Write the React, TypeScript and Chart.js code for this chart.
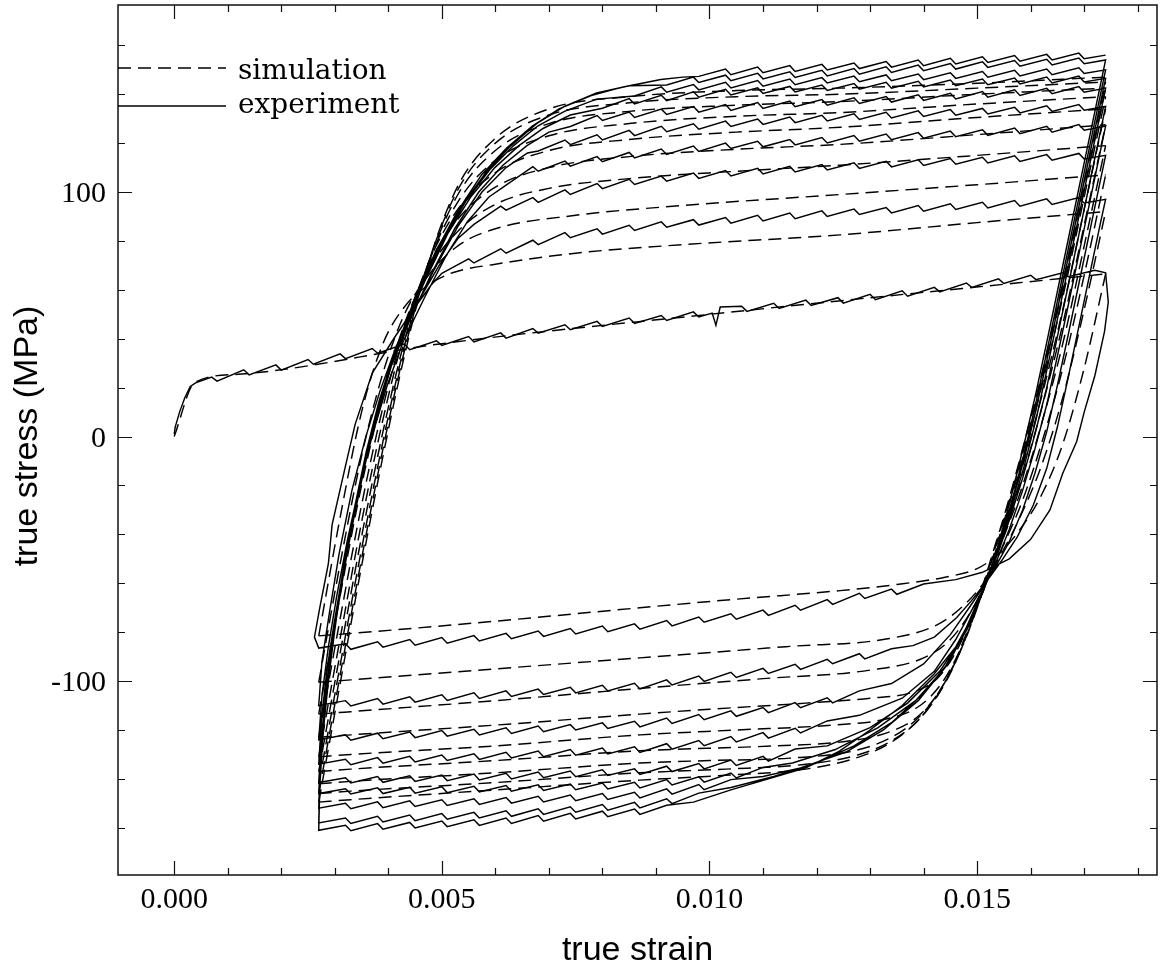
import React, { useEffect, useRef } from "react";
import { Chart, registerables } from "chart.js";

Chart.register(...registerables);

// ---------- axes (strain values are in units of 1e-3) ----------
const X_MIN = -1.05;
const X_MAX = 18.36;
const Y_MIN = -179.3;
const Y_MAX = 176.5;
const X_MAJOR = [0, 5, 10, 15];
const X_MAJOR_LABELS = ["0.000", "0.005", "0.010", "0.015"];
const X_MINOR = [0, 1, 2, 3, 4, 5, 6, 7, 8, 9, 10, 11, 12, 13, 14, 15, 16, 17, 18];
const Y_MAJOR = [-100, 0, 100];
const Y_MAJOR_LABELS = ["-100", "0", "100"];
const Y_MINOR = [-160, -140, -120, -100, -80, -60, -40, -20, 0, 20, 40, 60, 80, 100, 120, 140, 160];
const X_TITLE = "true strain";
const Y_TITLE = "true stress (MPa)";
const LEGEND = ["simulation", "experiment"];

// ---------- experiment (solid) ----------
const EXP_INIT = [
  [0, 1], [0.02, 4], [0.1, 10], [0.2, 16], [0.3, 20.5], [0.4, 22], [0.7, 24.3], [0.8, 22.7],
  [1.3, 27.3], [1.4, 25.2], [1.9, 29.3], [2.0, 27.2], [2.5, 31.5], [2.6, 29.6], [3.1, 33.8],
  [3.2, 31.9], [3.7, 36], [3.8, 34.1], [4.3, 37.8], [4.4, 35.5], [4.9, 39.2], [5.0, 37.3],
  [5.5, 40.9], [5.6, 38.7], [6.1, 42.4], [6.2, 40.2], [6.7, 44.2], [6.8, 42.3], [7.3, 45.7],
  [7.4, 43.7], [7.9, 47.1], [8.0, 45], [8.5, 48.5], [8.6, 46.3], [9.1, 49.5], [9.2, 47.5],
  [9.7, 51], [9.8, 48.9], [10.05, 50.5], [10.12, 45.5], [10.2, 53], [10.6, 53.3], [10.7, 51.2],
  [11.2, 54.5], [11.3, 52.4], [11.8, 55.8], [11.9, 53.6], [12.4, 56.8], [12.5, 54.6], [13.0, 58.2],
  [13.1, 56], [13.6, 59.6], [13.7, 57.4], [14.2, 61], [14.3, 59.2], [14.8, 62.8], [14.9, 61],
  [15.4, 64.5], [15.5, 62.6], [16.0, 66], [16.1, 64.2], [16.6, 67], [16.7, 65.4], [17.2, 68], [17.4, 67],
];

// strain grid shared by the serrated plateaus
const UPPER_X = [5.0, 5.5, 5.6, 6.1, 6.2, 6.7, 6.8, 7.3, 7.4, 7.9, 8.0, 8.5, 8.6, 9.1, 9.2, 9.7, 9.8, 10.3, 10.4, 10.9, 11.0, 11.5, 11.6, 12.1, 12.2, 12.7, 12.8, 13.3, 13.4, 13.9, 14.0, 14.5, 14.6, 15.1, 15.2, 15.7, 15.8, 16.3, 16.4, 16.9, 17.0, 17.4];
const LOWER_X = [2.7, 3.2, 3.3, 3.8, 3.9, 4.4, 4.5, 5.0, 5.1, 5.6, 5.7, 6.2, 6.3, 6.8, 6.9, 7.4, 7.5, 8.0, 8.1, 8.6, 8.7, 9.2, 9.3, 9.8, 9.9, 10.4, 10.5, 11.0, 11.1, 11.6, 11.7, 12.2, 12.3, 12.8, 12.9, 13.4, 13.5, 14.0];

// unloading paths from each tension peak down to the compressive plateau
const EXP_DOWN = [
  [[17.45, 55], [17.38, 43], [17.2, 25], [17.0, 10], [16.86, -2], [16.6, -15], [16.36, -30], [16.0, -42], [15.6, -50], [15.1, -55.5], [14.6, -58.5]],
  [[17.3, 87], [17.1, 66], [16.9, 45], [16.7, 24], [16.5, 4], [16.3, -13], [16.05, -28], [15.75, -41], [15.45, -51], [15.15, -60], [14.9, -67], [14.62, -74], [14.2, -82], [13.8, -85.5]],
  [[17.3, 104.5], [17.1, 83.5], [16.9, 62.5], [16.7, 41.5], [16.5, 21], [16.3, 2], [16.08, -15], [15.85, -30], [15.6, -43], [15.35, -53], [15.1, -62], [14.85, -70], [14.5, -81], [14.0, -93], [13.4, -101]],
  [[17.3, 116.5], [17.1, 95.5], [16.9, 74.5], [16.7, 53.5], [16.5, 33], [16.3, 13], [16.08, -5], [15.85, -22], [15.6, -38], [15.38, -50], [15.15, -61], [14.9, -71], [14.6, -83], [14.2, -96], [13.6, -107], [12.8, -114]],
  [[17.3, 124.5], [17.1, 103.5], [16.9, 82.5], [16.7, 61.5], [16.5, 41], [16.3, 20], [16.08, 1], [15.85, -17], [15.62, -33], [15.4, -47], [15.2, -58], [14.98, -69], [14.7, -83], [14.3, -96], [13.7, -109], [13.0, -119], [12.2, -126.5]],
  [[17.3, 132], [17.1, 111], [16.9, 90], [16.7, 69], [16.5, 48], [16.3, 27], [16.1, 7], [15.88, -12], [15.65, -29], [15.43, -44], [15.24, -56], [15.02, -67], [14.75, -81], [14.38, -95], [13.85, -108], [13.15, -119], [12.35, -128], [11.55, -133.5]],
  [[17.3, 136], [17.1, 115], [16.9, 94], [16.7, 73], [16.5, 52], [16.3, 31], [16.1, 11], [15.88, -9], [15.65, -27], [15.44, -42], [15.26, -54], [15.05, -66], [14.78, -80], [14.42, -94], [13.9, -108], [13.25, -120], [12.55, -129], [11.7, -135.5], [11.0, -139]],
  [[17.3, 139.5], [17.1, 118.5], [16.9, 97.5], [16.7, 76.5], [16.5, 55.5], [16.3, 34.5], [16.1, 14], [15.9, -5], [15.68, -24], [15.47, -40], [15.28, -53], [15.08, -65], [14.82, -78], [14.48, -92], [14.0, -105], [13.4, -117], [12.7, -126.5], [12.0, -133.5], [11.2, -139], [10.4, -143.5]],
  [[17.3, 143.5], [17.1, 122.5], [16.9, 101.5], [16.7, 80.5], [16.5, 59.5], [16.3, 38.5], [16.1, 18], [15.9, -1], [15.7, -19], [15.5, -36], [15.32, -50], [15.12, -63], [14.9, -74], [14.6, -86], [14.2, -97], [13.6, -110], [13.0, -120], [12.4, -129], [11.8, -135.5], [11.1, -140], [10.4, -144.5], [9.7, -149.5]],
];

// compressive plateaus: stresses on the first points of LOWER_X
const EXP_LOWER = [
  [-86.5, -84.7, -87, -83.9, -86.1, -83, -85.3, -82.2, -84.5, -81.4, -83.6, -80.5, -82.7, -79.5, -81.7, -78.5, -80.7, -77.5, -79.8, -76.6, -78.8, -75.2, -77.4, -73.8, -75.9, -72.5, -74.7, -71, -73.1, -69, -71, -66.7, -68.6, -64.1, -66.2, -62.4, -64.5, -60.3],
  [-110, -108, -110.2, -107.1, -109.4, -106.4, -108.6, -105.6, -107.9, -104.8, -107.1, -104, -106.3, -103.3, -105.5, -102.5, -104.8, -101.7, -104, -100.9, -103.2, -99.5, -101.6, -97.9, -100.1, -96.4, -98.5, -94.8, -96.9, -93.1, -95.2, -91.1, -92.9, -88.8, -90.9, -86.8],
  [-124, -122, -124.2, -121.3, -123.6, -120.8, -123.1, -120.2, -122.5, -119.7, -122, -119.1, -121.4, -118.4, -120.7, -117.8, -120, -117.1, -119.4, -116.4, -118.7, -115.1, -117.3, -113.7, -115.8, -112.2, -114.4, -110.8, -112.9, -108.8, -110.9, -106.8, -108.9, -104],
  [-134, -132, -134.2, -131.3, -133.6, -130.8, -133.1, -130.2, -132.5, -129.7, -132, -129.1, -131.4, -128.6, -130.9, -128, -130.3, -127.4, -129.8, -126.9, -129.2, -125.6, -127.8, -124.3, -126.4, -122.7, -124.9, -121.1, -123.3, -119.3, -121.2, -116.3],
  [-141.5, -139.5, -141.7, -139, -141.4, -138.7, -141, -138.4, -140.7, -138, -140.4, -137.7, -140, -137.2, -139.5, -136.8, -139.1, -136.3, -138.6, -135.9, -138.2, -134.8, -137, -133.7, -135.9, -132.3, -134.5, -130.8, -132.7, -127.8],
  [-146, -144, -146.2, -143.6, -146, -143.4, -145.8, -143.2, -145.6, -143, -145.3, -142.7, -145, -142.4, -144.7, -142.1, -144.4, -141.7, -144.1, -141.4, -143.7, -140.3, -142.5, -139.1, -141.3, -137.6, -139.6, -135.3],
  [-152, -150, -152.2, -149.4, -151.8, -149, -151.3, -148.5, -150.9, -148.1, -150.4, -147.6, -149.9, -147.1, -149.4, -146.6, -148.9, -146, -148.4, -145.5, -147.8, -144.1, -146.2, -142.3, -144.4, -140.3],
  [-158, -156, -158.2, -155.3, -157.6, -154.8, -157.1, -154.2, -156.5, -153.7, -156, -153, -155.3, -152.2, -154.5, -151.4, -153.6, -150.5, -152.8, -149.6, -151.9, -148.1, -150.1, -145.8],
  [-161, -159, -161.2, -158.3, -160.6, -157.8, -160.1, -157.2, -159.5, -156.7, -159, -156, -158.2, -155, -157.3, -154.1, -156.4, -153.2, -155.5, -152.3, -154.5, -150.8],
];

// reloading paths from each compressive peak up the left band
const EXP_UPKNEE = [
  [[2.62, -82], [2.72, -70], [2.88, -52], [2.95, -36], [3.2, -12], [3.38, 5], [3.7, 26], [4.1, 40], [4.5, 53], [4.8, 62]],
  [[2.76, -92], [2.9, -72], [3.08, -48], [3.32, -22], [3.58, 0], [3.85, 19], [4.15, 37], [4.55, 55], [4.95, 70], [5.3, 81]],
  [[2.76, -106], [2.88, -86], [3.03, -66], [3.23, -43], [3.47, -19], [3.72, 2], [3.98, 21], [4.28, 39], [4.68, 57], [5.08, 74], [5.48, 88], [5.88, 98]],
  [[2.75, -116], [2.85, -96], [2.99, -76], [3.17, -53], [3.39, -29], [3.61, -7], [3.84, 13], [4.1, 32], [4.45, 50], [4.85, 68], [5.3, 86], [5.75, 100], [6.2, 110], [6.6, 116]],
  [[2.75, -123], [2.85, -101], [2.97, -81], [3.14, -58], [3.35, -34], [3.57, -11], [3.79, 9], [4.04, 28], [4.39, 47], [4.79, 66], [5.24, 85], [5.69, 100], [6.14, 111], [6.59, 119], [7.0, 124.5]],
  [[2.74, -128], [2.83, -107], [2.95, -86], [3.11, -62], [3.31, -38], [3.53, -14], [3.75, 7], [3.99, 26], [4.31, 45], [4.69, 64], [5.11, 83], [5.54, 98], [5.99, 110], [6.44, 119], [6.89, 126], [7.4, 131.5]],
  [[2.73, -134], [2.81, -113], [2.92, -92], [3.07, -68], [3.26, -44], [3.47, -20], [3.69, 2], [3.93, 21], [4.24, 41], [4.61, 61], [5.02, 80], [5.44, 96], [5.89, 109], [6.34, 119], [6.79, 127], [7.29, 133], [7.89, 138]],
  [[2.72, -140], [2.79, -119], [2.89, -98], [3.03, -74], [3.21, -50], [3.41, -26], [3.63, -3], [3.87, 17], [4.17, 37], [4.54, 57], [4.94, 77], [5.37, 94], [5.82, 108], [6.29, 119], [6.77, 128], [7.29, 135], [7.89, 140.5], [8.5, 143.5]],
  [[2.72, -143], [2.78, -122], [2.87, -101], [3.0, -77], [3.17, -53], [3.37, -29], [3.59, -6], [3.82, 14], [4.11, 34], [4.47, 55], [4.87, 75], [5.29, 92], [5.74, 107], [6.21, 118], [6.69, 127], [7.19, 134], [7.79, 139.5], [8.39, 143], [9.09, 146], [9.5, 147]],
];

// tension plateaus: stresses on the last points of UPPER_X
const EXP_UPPER = [
  [66.8, 72.7, 71, 76.8, 75, 80.3, 78.5, 83.4, 81.3, 85, 82.8, 86.4, 84.3, 87.8, 85.6, 88.7, 86.5, 89.6, 87.3, 90.5, 88.2, 91.4, 89.1, 92.3, 90, 93, 90.8, 93.7, 91.5, 94.5, 92.2, 95.2, 92.9, 95.8, 93.5, 96.5, 94.2, 97.2, 94.9, 97.8, 95.5, 97],
  [86.8, 94.2, 92.6, 97.7, 95.8, 100.9, 99, 103.5, 101.4, 105.2, 103.1, 106.5, 104.4, 107.8, 105.6, 108.8, 106.6, 109.7, 107.4, 110.5, 108.2, 111.2, 109, 112, 109.7, 112.6, 110.3, 113.2, 110.9, 113.7, 111.4, 114.2, 111.9, 114.8, 112.5, 115.3, 113, 115.8, 113.5, 115],
  [102.8, 110.4, 108.5, 112.7, 110.6, 114.5, 112.4, 116.2, 114, 117.6, 115.4, 118.8, 116.6, 120, 117.8, 120.8, 118.5, 121.5, 119.3, 122.3, 120.1, 123.1, 120.8, 123.7, 121.4, 124.3, 122, 124.9, 122.6, 125.5, 123.2, 126.2, 123.9, 126.9, 124.5, 127.6, 125.3, 127],
  [116.8, 121.3, 119.4, 123.4, 121.3, 125.2, 123.1, 126.9, 124.7, 127.9, 125.7, 129, 126.8, 129.9, 127.7, 130.7, 128.4, 131.4, 129.1, 132, 129.7, 132.6, 130.3, 133.2, 130.9, 133.7, 131.4, 134.2, 131.9, 134.7, 132.4, 135.3, 133, 135.8, 133.5, 135],
  [126.8, 131.3, 129.3, 132.7, 130.5, 133.9, 131.7, 135, 132.7, 135.8, 133.4, 136.6, 134.2, 137.2, 134.9, 137.8, 135.5, 138.5, 136.2, 139.1, 136.8, 139.8, 137.5, 140.4, 138.1, 141.1, 138.8, 141.8, 139.5, 142.4, 140.2, 143.1, 140.8, 142.5],
  [134.3, 138.2, 136, 139.6, 137.4, 141, 138.8, 142, 139.7, 142.6, 140.3, 143.2, 140.9, 143.8, 141.6, 144.4, 142.1, 144.9, 142.5, 145.3, 143, 145.8, 143.5, 146.2, 143.9, 146.6, 144.2, 147, 144.6, 147.4, 145, 146.5],
  [139.3, 143, 140.8, 144, 141.8, 144.9, 142.6, 145.6, 143.3, 146.2, 143.9, 146.8, 144.6, 147.4, 145.1, 147.9, 145.5, 148.3, 146, 148.8, 146.5, 149.3, 147, 149.8, 147.5, 150.3, 148, 150.8, 148.5, 150],
  [143.8, 147, 144.8, 147.8, 145.5, 148.6, 146.3, 149.2, 146.9, 149.8, 147.5, 150.5, 148.2, 151.2, 148.9, 151.9, 149.6, 152.6, 150.3, 153.3, 151, 153.8, 151.5, 154.3, 152, 154.8, 152.5, 154],
  [147.3, 150.3, 148, 151.1, 148.8, 151.7, 149.3, 152.2, 149.9, 152.8, 150.5, 153.4, 151.1, 154, 151.7, 154.7, 152.4, 155.3, 153, 155.8, 153.5, 156.3, 154, 156.8, 154.5, 156],
];

// ---------- simulation (dashed) ----------
const SIM_INIT = [[0, 0], [0.38, 22], [1.2, 25.5], [5.0, 38], [10.0, 50], [17.4, 66.5]];
const SIM_DOWN = [
  [[17.4, 66.5], [17.0, 28], [16.6, -3], [16.2, -24], [15.8, -38], [15.4, -48], [15.0, -54], [14.4, -57.5], [13.5, -60.5], [12.44, -63], [10.5, -66.5], [8.7, -70], [6.0, -75.5], [3.3, -80.5], [2.7, -81.5]],
  [[17.4, 92], [17.0, 52], [16.6, 16], [16.2, -12], [15.8, -33], [15.45, -48], [15.15, -59], [14.75, -69], [14.25, -77], [13.3, -82.8], [11.5, -85.8], [8.7, -90.5], [6.0, -95], [3.3, -99.5], [2.7, -100.5]],
  [[17.4, 107], [17.0, 66], [16.6, 28], [16.2, -3], [15.85, -26], [15.5, -44], [15.2, -58], [14.9, -71], [14.5, -83], [14.0, -90.5], [13.0, -95.5], [11.0, -99], [8.7, -103], [6.0, -108], [3.3, -112.5], [2.7, -113.5]],
  [[17.4, 119], [17.0, 78], [16.6, 38], [16.2, 5], [15.85, -20], [15.55, -38], [15.3, -52], [15.08, -65], [14.85, -77], [14.58, -89], [14.25, -99], [13.8, -104.5], [13.0, -107], [11.8, -109], [10.0, -111.5], [8.7, -113.5], [6.0, -118], [3.3, -122], [2.7, -123]],
  [[17.4, 127.5], [17.0, 86.5], [16.6, 46], [16.2, 11], [15.85, -16], [15.55, -36], [15.3, -51], [15.08, -65], [14.85, -78], [14.6, -91], [14.3, -102], [13.9, -110.5], [13.3, -115.5], [12.3, -118], [10.5, -120], [8.7, -122], [6.0, -126.5], [3.3, -130], [2.7, -131]],
  [[17.4, 134], [17.0, 93], [16.6, 52], [16.2, 16], [15.85, -12], [15.55, -33], [15.3, -50], [15.08, -65], [14.85, -79], [14.6, -92], [14.3, -104], [13.92, -114], [13.4, -120.5], [12.6, -124.5], [11.2, -126.5], [8.7, -128.5], [6.0, -132.5], [3.3, -136], [2.7, -137]],
  [[17.4, 139], [17.0, 98], [16.6, 57], [16.2, 20], [15.85, -9], [15.55, -31], [15.3, -49], [15.07, -65], [14.83, -80], [14.57, -93], [14.27, -105], [13.9, -115], [13.4, -123], [12.7, -128.5], [11.5, -131.5], [10.0, -132.5], [8.7, -133.5], [6.0, -137.5], [3.3, -141], [2.7, -142]],
  [[17.4, 142.5], [17.0, 101.5], [16.6, 60.5], [16.2, 23], [15.85, -7], [15.55, -30], [15.3, -48], [15.07, -64], [14.82, -80], [14.56, -94], [14.26, -106], [13.9, -116], [13.4, -124.5], [12.8, -130], [11.8, -134], [10.3, -136], [8.7, -137.5], [6.0, -141.5], [3.3, -145], [2.7, -146]],
  [[17.4, 145], [17.0, 104], [16.6, 63], [16.2, 25], [15.85, -5], [15.55, -29], [15.3, -47], [15.06, -64], [14.81, -80], [14.55, -94], [14.25, -106], [13.9, -116], [13.4, -125], [12.8, -131], [11.8, -136], [10.3, -138.5], [8.7, -140.5], [6.0, -144.5], [3.3, -148.5], [2.7, -149.5]],
];
const SIM_UP = [
  [[2.7, -81.5], [3.1, -33], [3.5, 10], [3.9, 38], [4.3, 53], [4.75, 62], [5.2, 67], [6.0, 70.5], [7.5, 75], [9.5, 78.5], [12.44, 82.5], [15.0, 87.5], [17.4, 92]],
  [[2.7, -100.5], [3.1, -52], [3.5, -8], [3.9, 26], [4.3, 50], [4.75, 66], [5.3, 78], [6.0, 85], [7.5, 90.5], [9.5, 94.5], [12.44, 99], [15.0, 103], [17.4, 107]],
  [[2.7, -113.5], [3.1, -65], [3.5, -20], [3.9, 17], [4.3, 46], [4.75, 68], [5.3, 84], [6.0, 95], [7.0, 101.5], [8.5, 105.5], [10.5, 108.5], [12.44, 111], [15.0, 115], [17.4, 119]],
  [[2.7, -123], [3.1, -74.5], [3.5, -28], [3.9, 12], [4.3, 44], [4.75, 70], [5.3, 89], [6.0, 102], [7.0, 110], [8.5, 114.5], [10.5, 117.5], [12.44, 119.5], [15.0, 123.5], [17.4, 127.5]],
  [[2.7, -131], [3.1, -82.5], [3.5, -35], [3.9, 7], [4.3, 42], [4.75, 71], [5.3, 93], [6.0, 108], [7.0, 117], [8.5, 121.5], [10.5, 124.5], [12.44, 126.5], [15.0, 130.5], [17.4, 134]],
  [[2.7, -137], [3.1, -88.5], [3.5, -41], [3.9, 2], [4.3, 39], [4.75, 71], [5.3, 96], [6.0, 113], [7.0, 123], [8.5, 128], [10.5, 131], [12.44, 132.5], [15.0, 136], [17.4, 139]],
  [[2.7, -142], [3.1, -93.5], [3.5, -46], [3.9, -2], [4.3, 37], [4.75, 71], [5.3, 99], [6.0, 117], [7.0, 128], [8.5, 133], [10.5, 135.5], [12.44, 137], [15.0, 140], [17.4, 142.5]],
  [[2.7, -146], [3.1, -97.5], [3.5, -50], [3.9, -5], [4.3, 35], [4.75, 71], [5.3, 101], [6.0, 120], [7.0, 131.5], [8.5, 136.5], [10.5, 139], [12.44, 140], [15.0, 142.5], [17.4, 145]],
  [[2.7, -149.5], [3.1, -101], [3.5, -53], [3.9, -8], [4.3, 33], [4.75, 71], [5.3, 102.5], [6.0, 122], [7.0, 134], [8.5, 139], [10.5, 141.5], [12.44, 142.5], [15.0, 144.5], [17.4, 147]],
];

type P = { x: number; y: number };
const toP = (x: number, y: number): P => ({ x: x / 1000, y });

function buildExperiment(): P[] {
  const pts: P[] = [];
  EXP_INIT.forEach(([x, y]) => pts.push(toP(x, y)));
  for (let k = 0; k < EXP_DOWN.length; k++) {
    EXP_DOWN[k].forEach(([x, y]) => pts.push(toP(x, y)));
    const lv = EXP_LOWER[k];
    for (let i = lv.length - 1; i >= 0; i--) pts.push(toP(LOWER_X[i], lv[i]));
    EXP_UPKNEE[k].forEach(([x, y]) => pts.push(toP(x, y)));
    const uv = EXP_UPPER[k];
    const s = UPPER_X.length - uv.length;
    uv.forEach((v, i) => pts.push(toP(UPPER_X[s + i], v)));
  }
  return pts;
}

const DASH = [13, 7];
const LINE_W = 1.45;

const framePlugin = {
  id: "frameAndText",
  afterDatasetsDraw(chart: any) {
    const { ctx, chartArea: a, scales } = chart;
    const xs = scales.x;
    const ys = scales.y;
    ctx.save();
    ctx.strokeStyle = "#111";
    ctx.lineWidth = 1.5;
    ctx.setLineDash([]);
    ctx.strokeRect(a.left, a.top, a.right - a.left, a.bottom - a.top);
    ctx.lineWidth = 1.2;
    ctx.beginPath();
    X_MINOR.forEach((v) => {
      const px = Math.round(xs.getPixelForValue(v / 1000)) + 0.5;
      const len = X_MAJOR.includes(v) ? 14 : 7;
      ctx.moveTo(px, a.bottom);
      ctx.lineTo(px, a.bottom - len);
      ctx.moveTo(px, a.top);
      ctx.lineTo(px, a.top + len);
    });
    Y_MINOR.forEach((v) => {
      const py = Math.round(ys.getPixelForValue(v)) + 0.5;
      const len = Y_MAJOR.includes(v) ? 14 : 7;
      ctx.moveTo(a.left, py);
      ctx.lineTo(a.left + len, py);
      ctx.moveTo(a.right, py);
      ctx.lineTo(a.right - len, py);
    });
    ctx.stroke();

    ctx.fillStyle = "#000";
    ctx.font = '30px "Liberation Serif"';
    ctx.textAlign = "center";
    ctx.textBaseline = "alphabetic";
    X_MAJOR.forEach((v, i) => {
      ctx.fillText(X_MAJOR_LABELS[i], xs.getPixelForValue(v / 1000), a.bottom + 33);
    });
    ctx.textAlign = "right";
    Y_MAJOR.forEach((v, i) => {
      ctx.fillText(Y_MAJOR_LABELS[i], a.left - 12, ys.getPixelForValue(v) + 10);
    });

    ctx.font = '34px "Liberation Sans"';
    ctx.textAlign = "center";
    ctx.textBaseline = "middle";
    ctx.fillText(X_TITLE, (a.left + a.right) / 2, a.bottom + 76);
    ctx.save();
    ctx.translate(28, (a.top + a.bottom) / 2 - 4);
    ctx.rotate(-Math.PI / 2);
    ctx.fillText(Y_TITLE, 0, 0);
    ctx.restore();

    // legend
    ctx.lineWidth = LINE_W;
    ctx.strokeStyle = "#000";
    ctx.setLineDash(DASH);
    ctx.beginPath();
    ctx.moveTo(a.left, 68);
    ctx.lineTo(a.left + 108, 68);
    ctx.stroke();
    ctx.setLineDash([]);
    ctx.beginPath();
    ctx.moveTo(a.left, 106);
    ctx.lineTo(a.left + 108, 106);
    ctx.stroke();
    ctx.font = '28px "DejaVu Serif"';
    ctx.textAlign = "left";
    ctx.textBaseline = "alphabetic";
    ctx.fillText(LEGEND[0], a.left + 120, 79);
    ctx.fillText(LEGEND[1], a.left + 120, 113);
    ctx.restore();
  },
};

export default function App() {
  const ref = useRef<HTMLCanvasElement>(null);
  useEffect(() => {
    document.body.style.margin = "0";
    const canvas = ref.current;
    if (!canvas) return;
    const simBase = {
      showLine: true,
      borderColor: "#000",
      borderWidth: LINE_W,
      borderDash: DASH,
      pointRadius: 0,
      fill: false,
    };
    const datasets: any[] = [
      {
        label: LEGEND[1],
        data: buildExperiment(),
        showLine: true,
        borderColor: "#000",
        borderWidth: LINE_W,
        pointRadius: 0,
        tension: 0,
        fill: false,
      },
      {
        ...simBase,
        label: LEGEND[0],
        data: SIM_INIT.map(([x, y]) => toP(x, y)),
        cubicInterpolationMode: "monotone",
      },
    ];
    SIM_DOWN.forEach((b) =>
      datasets.push({
        ...simBase,
        label: LEGEND[0],
        data: b.slice().reverse().map(([x, y]) => toP(x, y)),
        cubicInterpolationMode: "monotone",
      })
    );
    SIM_UP.forEach((b) =>
      datasets.push({
        ...simBase,
        label: LEGEND[0],
        data: b.map(([x, y]) => toP(x, y)),
        cubicInterpolationMode: "monotone",
      })
    );
    const chart = new Chart(canvas, {
      type: "scatter",
      data: { datasets },
      options: {
        animation: false,
        responsive: false,
        maintainAspectRatio: false,
        devicePixelRatio: 1,
        events: [],
        layout: { padding: { left: 118, top: 5, right: 4, bottom: 101 } },
        plugins: { legend: { display: false }, tooltip: { enabled: false } },
        scales: {
          x: { type: "linear", min: X_MIN / 1000, max: X_MAX / 1000, display: false },
          y: { type: "linear", min: Y_MIN, max: Y_MAX, display: false },
        },
      },
      plugins: [framePlugin],
    } as any);
    return () => chart.destroy();
  }, []);
  return (
    <div style={{ position: "absolute", left: 0, top: 0, width: 1161, height: 976, background: "#fff" }}>
      <canvas ref={ref} width={1161} height={976} style={{ display: "block", width: 1161, height: 976 }} />
    </div>
  );
}
